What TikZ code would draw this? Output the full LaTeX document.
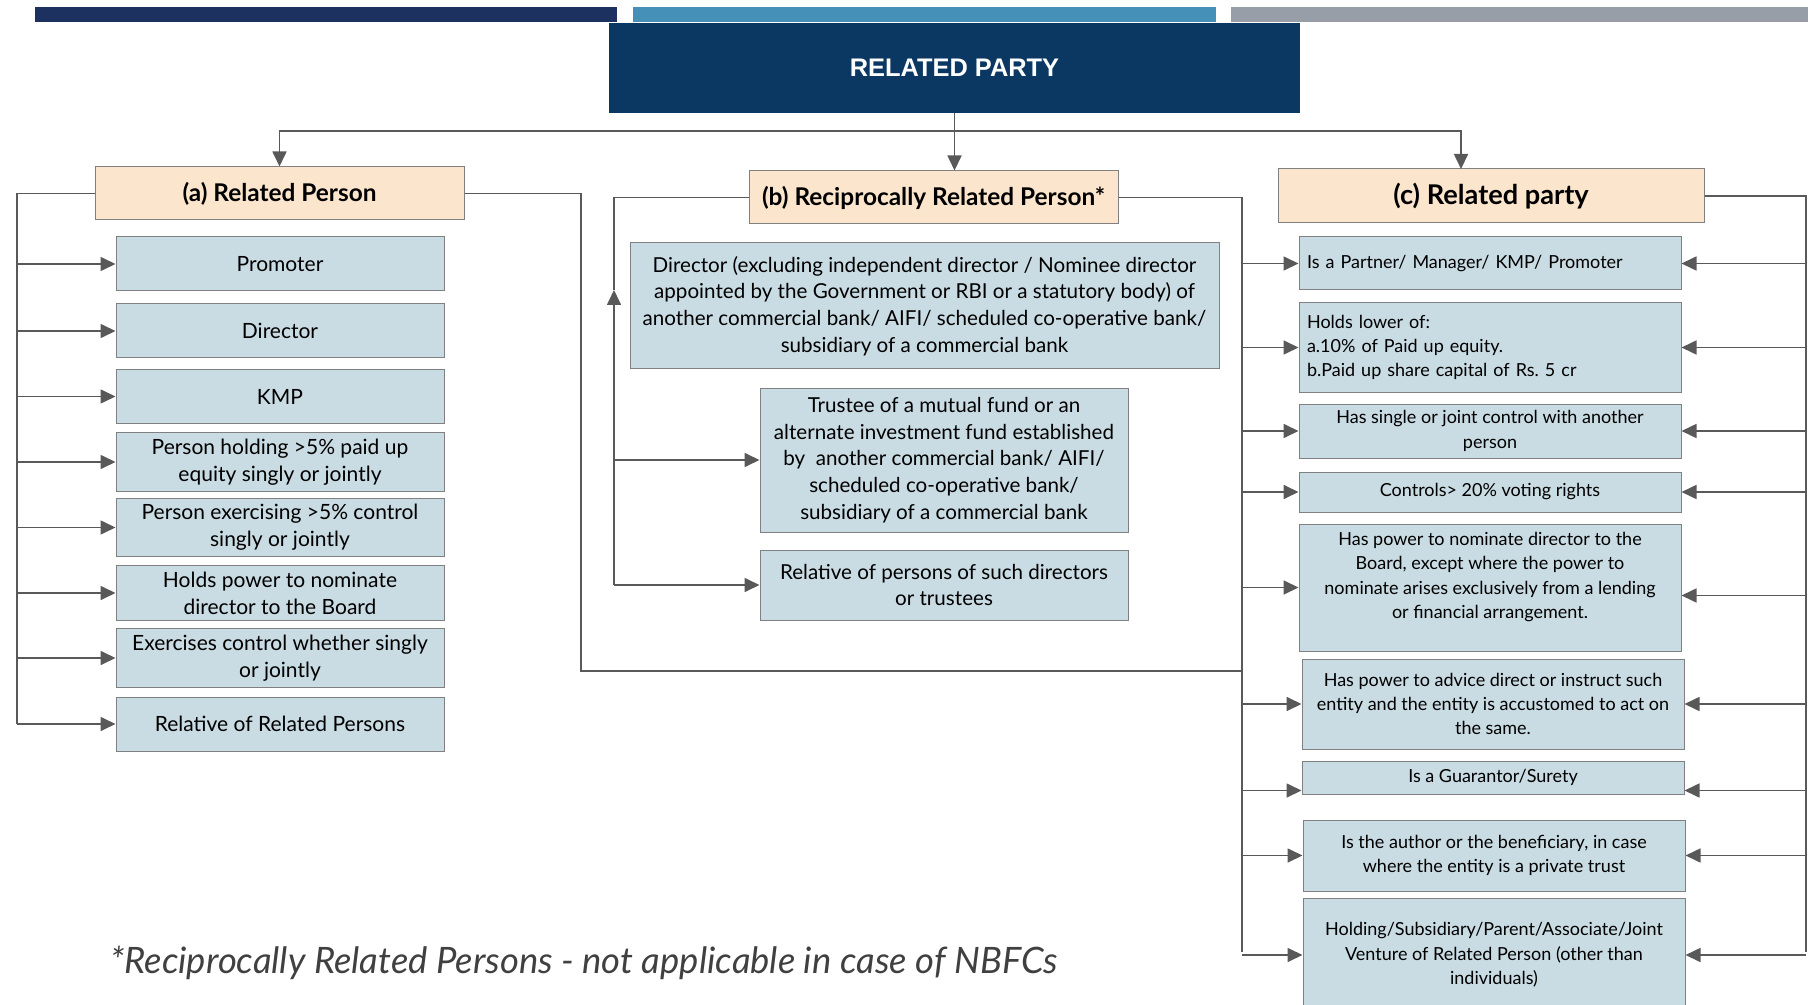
\documentclass[tikz,border=0pt]{standalone}
\usepackage{fontspec}
\setmainfont{Lato}
\newfontfamily\titlefont{Liberation Sans}
\usetikzlibrary{arrows.meta}
\definecolor{navy}{HTML}{0B3862}
\definecolor{barone}{HTML}{1C3160}
\definecolor{bartwo}{HTML}{4590B8}
\definecolor{barthree}{HTML}{979EA8}
\definecolor{peach}{HTML}{FCE5CD}
\definecolor{steel}{HTML}{C9DBE3}
\definecolor{border}{HTML}{808080}
\definecolor{linec}{HTML}{595959}
\definecolor{note}{HTML}{404040}
\frenchspacing
\tikzset{
  box/.style={draw=border, fill=steel, line width=0.5pt, align=center, inner sep=3pt, font=\fontsize{10.5}{13.5}\selectfont},
  head/.style={box, fill=peach, font=\fontsize{12.2}{14}\selectfont\bfseries},
  abox/.style={box, minimum width=164pt, minimum height=27pt},
  bbox/.style={box, font=\fontsize{10.3}{13.3}\selectfont},
  cbox/.style={box, minimum width=191pt, font=\fontsize{9}{12.2}\selectfont},
  wire/.style={draw=linec, line width=0.85pt},
  flow/.style={wire, -{Triangle[length=7.5pt, width=7pt]}},
}
\begin{document}
\begin{tikzpicture}[x=0.5pt, y=-0.5pt]
    \useasboundingbox (0,0) rectangle (1808,1005);
    % top bars
    \fill[barone] (35,7) rectangle (617,22);
    \fill[bartwo] (633,7) rectangle (1216,22);
    \fill[barthree] (1231,7) rectangle (1808,22);
    % title
    \node[fill=navy, minimum width=345.5pt, minimum height=45pt, text=white, font=\titlefont\fontsize{12.7}{14}\selectfont\bfseries] (top) at (954.5,68) {RELATED PARTY};
    % headers
    \node[head, minimum width=184.5pt, minimum height=26.5pt] (ha) at (279.5,193.5) {(a) Related Person};
    \node[head, minimum width=184.5pt, minimum height=26.5pt] (hb) at (933.5,197.5) {(b) Reciprocally Related Person*};
    \node[head, minimum width=213pt, minimum height=27pt, font=\fontsize{13.6}{15}\selectfont\bfseries] (hc) at (1491,196) {(c) Related party};
    % (a) items
    \node[abox] (a1) at (280,264) {Promoter};
    \node[abox] (a2) at (280,331) {Director};
    \node[abox] (a3) at (280,396.5) {KMP};
    \node[abox] (a4) at (280,462) {Person holding >5\% paid up\\equity singly or jointly};
    \node[abox] (a5) at (280,527.5) {Person exercising >5\% control\\singly or jointly};
    \node[abox] (a6) at (280,593) {Holds power to nominate\\director to the Board};
    \node[abox] (a7) at (280,658) {Exercises control whether singly\\or jointly};
    \node[abox] (a8) at (280,724) {Relative of Related Persons};
    % (b) items
    \node[bbox, minimum width=294.5pt, minimum height=63pt] (b1) at (924.5,306) {Director (excluding independent director / Nominee director\\appointed by the Government or RBI or a statutory body) of\\another commercial bank/ AIFI/ scheduled co-operative bank/\\subsidiary of a commercial bank};
    \node[bbox, minimum width=184pt, minimum height=72pt] (b2) at (944,460) {Trustee of a mutual fund or an\\alternate investment fund established\\by\ \ another commercial bank/ AIFI/\\scheduled co-operative bank/\\subsidiary of a commercial bank};
    \node[bbox, minimum width=184pt, minimum height=35pt] (b3) at (944,585) {Relative of persons of such directors\\or trustees};
    % (c) items
    \node[cbox, text width=183pt, align=left, minimum height=26.5pt] (c1) at (1490,263.5) {Is a Partner/ Manager/ KMP/ Promoter};
    \node[cbox, text width=183pt, align=left, minimum height=44.5pt] (c2) at (1490,347.5) {Holds lower of:\\a.10\% of Paid up equity.\\b.Paid up share capital of Rs. 5 cr};
    \node[cbox, minimum height=27pt] (c3) at (1490,431) {Has single or joint control with another\\person};
    \node[cbox, minimum height=20pt] (c4) at (1490,492) {Controls> 20\% voting rights};
    \node[cbox, minimum height=63.5pt] (c5) at (1490,587.5) {Has power to nominate director to the\\Board, except where the power to\\nominate arises exclusively from a lending\\or financial arrangement.\\\mbox{}};
    \node[cbox, minimum height=45pt] (c6) at (1493,704) {Has power to advice direct or instruct such\\entity and the entity is accustomed to act on\\the same.};
    \node[cbox, minimum height=16.5pt] (c7) at (1493,777.5) {Is a Guarantor/Surety};
    \node[cbox, minimum height=35.5pt] (c8) at (1494,855.5) {Is the author or the beneficiary, in case\\where the entity is a private trust};
    \node[cbox, minimum height=56.5pt] (c9) at (1494,955) {Holding/Subsidiary/Parent/Associate/Joint\\Venture of Related Person (other than\\individuals)};
    % bus points
    \coordinate (split) at (954.5,131);
    \coordinate (hcin) at (1461,169);
    \coordinate (abus) at (17,193.5);
    \coordinate (aret) at (581,671);
    \coordinate (bbus) at (614,197.5);
    \coordinate (bup) at (614,290);
    \coordinate (cbus) at (1242,952);
    \coordinate (rbus) at (1806,952);
    \coordinate (c5r) at ([yshift=-4pt]c5.east);
    \coordinate (c7l) at ([yshift=-6.5pt]c7.west);
    \coordinate (c7r) at ([yshift=-6.5pt]c7.east);
    % split from the title
    \draw[flow] (top.south) -- (top.south |- hb.north);
    \draw[flow] (split) -| (ha.north);
    \draw[flow] (split) -| (hcin);
    % (a) bus
    \draw[wire] (ha.west) -| (abus |- a8.west);
    \foreach \n in {a1,a2,a3,a4,a5,a6,a7,a8}
      \draw[flow] (abus |- \n.west) -- (\n.west);
    \draw[wire] (ha.east) -| (aret) -- (aret -| cbus);
    % (b) bus
    \draw[wire] (hb.west) -| (bup);
    \draw[flow] (bbus |- b3.west) -- (bup);
    \draw[flow] (bbus |- b2.west) -- (b2.west);
    \draw[flow] (bbus |- b3.west) -- (b3.west);
    % (c) buses
    \draw[wire] (hb.east) -| (cbus);
    \draw[wire] (hc.east) -| (rbus);
    \foreach \n in {c1,c2,c3,c4,c5,c6,c8,c9}
      \draw[flow] (cbus |- \n.west) -- (\n.west);
    \draw[flow] (cbus |- c7l) -- (c7l);
    \foreach \n in {c1,c2,c3,c4,c6,c8,c9}
      \draw[flow] (rbus |- \n.east) -- (\n.east);
    \draw[flow] (rbus |- c5r) -- (c5r);
    \draw[flow] (rbus |- c7r) -- (c7r);
    % footnote
    \node[font=\fontsize{18.2}{21}\selectfont\itshape, text=note] (fn) at (584,963) {*Reciprocally Related Persons - not applicable in case of NBFCs};
  \end{tikzpicture}
\end{document}
